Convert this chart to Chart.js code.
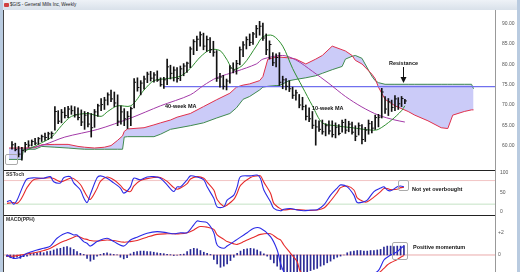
<!DOCTYPE html>
<html>
<head>
<meta charset="utf-8">
<script src="https://cdn.jsdelivr.net/npm/chart.js@4.4.1/dist/chart.umd.min.js"></script>
<style>
body{margin:0;width:520px;height:272px;overflow:hidden;background:#b9cbe0;font-family:"Liberation Sans",Arial,sans-serif;position:relative}
.abs{position:absolute}
#titlebar{left:3px;top:0;width:514px;height:10px;background:linear-gradient(#eef2f7,#d9e1ea)}
#icon{left:4px;top:3px;width:5px;height:4px;background:#d04040;border-radius:1px}
#title{left:10px;top:2px;font-size:4.6px;line-height:6px;color:#222;white-space:nowrap}
#inner{left:3px;top:10px;width:514px;height:262px;background:#fff;border-left:1px solid #444;box-sizing:border-box}
canvas{position:absolute;left:4px}
.sep{left:4px;width:491px;height:1px;background:#222;z-index:2}
#vline{left:495px;top:10px;width:1px;height:262px;background:#999;z-index:2}
.note{font-size:5.5px;line-height:6px;font-weight:bold;color:#111;white-space:nowrap;z-index:3}
.lbl{font-size:5px;line-height:6px;font-weight:bold;color:#333;white-space:nowrap;z-index:3}
.box{border:1px solid #aaa;border-radius:2px;z-index:3;box-sizing:border-box}
</style>
</head>
<body>
<div id="titlebar" class="abs"></div>
<div id="icon" class="abs"></div>
<div id="title" class="abs">$GIS - General Mills Inc, Weekly</div>
<div id="inner" class="abs"></div>
<canvas id="priceChart" width="513" height="159" style="top:11px"></canvas>
<canvas id="stochChart" width="513" height="45" style="top:170px"></canvas>
<canvas id="macdChart" width="513" height="57" style="top:215px"></canvas>
<div class="abs sep" style="top:170px"></div>
<div class="abs sep" style="top:215px"></div>
<div id="vline" class="abs"></div>

<div class="abs note" style="left:165px;top:103px">40-week MA</div>
<div class="abs note" style="left:312px;top:105px">10-week MA</div>
<div class="abs note" style="left:389px;top:60px">Resistance</div>
<svg class="abs" style="left:399px;top:67px;z-index:3" width="9" height="17">
  <line x1="4.5" y1="0" x2="4.5" y2="13" stroke="#111" stroke-width="1"/>
  <path d="M1.5 10 L4.5 16 L7.5 10 Z" fill="#111"/>
</svg>
<div class="abs box" style="left:5px;top:154px;width:13px;height:11px"></div>
<div class="abs lbl" style="left:6px;top:171px">SSToch</div>
<div class="abs box" style="left:398px;top:180px;width:11px;height:11px"></div>
<div class="abs note" style="left:412px;top:186px">Not yet overbought</div>
<div class="abs lbl" style="left:6px;top:216px">MACD(PPH)</div>
<div class="abs box" style="left:392px;top:242px;width:16px;height:18px"></div>
<div class="abs note" style="left:413px;top:244px">Positive momentum</div>

<script>
/* DATA : weekly bars, index = week */
const highs = [61.0,60.6,59.8,59.6,60.8,61.2,61.4,61.8,62.0,62.6,63.1,63.3,63.4,69.6,68.6,68.9,69.4,69.7,69.8,69.6,
  69.3,68.8,68.4,68.2,67.9,68.9,70.2,71.6,71.9,73.0,73.7,73.2,72.5,69.8,69.1,68.4,69.5,76.5,76.7,76.0,
  77.1,78.1,78.3,78.0,78.4,76.7,76.8,81.3,79.8,79.4,79.2,79.6,80.2,80.6,84.3,86.1,87.0,88.0,87.7,87.0,
  86.6,85.7,83.4,77.8,77.3,76.4,79.7,80.4,81.0,84.3,85.6,86.8,87.5,87.9,89.6,90.6,90.2,87.5,85.8,82.9,
  82.6,82.9,77.1,76.5,76.0,74.4,73.7,72.6,71.9,70.0,69.3,68.4,66.3,66.1,66.3,65.4,66.1,66.1,65.6,65.2,
  66.3,66.5,66.0,65.8,64.9,65.6,65.2,64.5,66.3,66.0,67.5,67.7,74.1,72.1,71.6,71.2,72.3,71.8,72.1,71.4];
const lows = [59.1,58.7,57.2,56.4,58.4,59.6,59.9,60.2,60.3,61.0,61.3,61.5,61.8,63.8,65.4,65.6,66.8,66.9,67.7,67.0,
  66.3,64.9,64.0,64.6,62.1,64.5,67.2,68.6,68.9,70.0,70.8,69.6,64.9,65.3,64.9,64.2,64.9,69.3,73.4,72.5,
  73.9,75.5,75.9,75.6,75.8,74.6,74.1,75.0,76.4,75.9,75.6,76.0,77.2,78.0,79.2,82.4,83.4,84.5,83.6,83.2,
  82.9,82.0,75.8,74.4,73.9,73.7,75.4,77.9,77.6,79.9,81.9,83.8,84.6,84.9,86.6,87.2,85.9,82.4,81.3,79.7,
  79.4,74.8,74.0,73.7,73.3,71.6,71.2,69.3,68.8,66.3,65.9,64.2,60.1,63.5,62.8,62.4,62.8,62.1,61.9,62.6,
  63.3,63.0,63.4,62.8,61.2,62.6,60.4,61.0,62.8,63.1,64.0,64.6,66.8,67.9,67.4,68.4,68.6,68.9,69.6,70.3];
const closes = [60.2,59.0,57.9,58.8,60.3,60.1,61.0,60.6,61.7,62.2,62.0,62.9,63.0,68.4,66.0,68.2,67.4,69.0,68.6,67.6,
  66.9,65.8,67.5,65.3,64.4,68.3,69.8,70.1,71.2,72.5,71.5,70.5,66.0,68.3,66.6,67.2,69.1,75.6,74.3,75.4,
  76.4,77.6,76.6,77.4,76.1,75.0,76.2,79.4,77.8,78.6,76.5,78.9,79.6,80.3,83.8,85.6,86.2,87.3,84.5,86.1,
  83.6,83.0,76.6,76.9,74.6,75.9,79.1,78.6,80.2,83.6,84.8,86.1,85.4,87.5,88.8,89.4,86.5,83.6,84.9,80.4,
  81.7,75.6,76.2,74.6,74.0,72.4,73.0,70.0,69.6,67.2,66.6,65.0,64.6,64.0,63.4,64.9,63.6,62.7,64.5,63.0,
  65.7,63.8,65.3,63.3,62.3,64.9,61.5,63.8,65.4,64.3,66.9,67.0,73.2,69.0,70.8,69.4,71.5,70.3,71.6,71.0];

/* moving averages */
const ma10Weeks = [4,8,12,15,18,23,27,29,32,36,40,43,47,51,54,57,60,63,65,67,70,74,76,79,82,85,88,91,94,98,103,109,111,115,118,119];
const ma10 = [58.7,60.3,62.1,64.9,67.2,67.9,67.2,68.4,69.8,69.8,73.7,76.0,76.5,77.1,79.0,81.8,83.6,83.4,81.3,78.8,79.9,84.5,86.8,87.1,84.5,79.0,74.4,69.8,65.6,64.9,64.4,63.8,64.0,66.3,68.6,69.8];
const ma40Weeks = [4,10,16,26,36,45,54,58,62,68,74,76,82,86,91,96,101,106,111,116,119];
const ma40 = [59.1,60.3,62.1,64.0,66.8,69.8,72.5,74.8,76.7,78.3,80.1,81.3,82.2,81.1,78.3,75.3,72.1,69.5,67.5,66.3,65.8];

/* cloud (span A red, span B green), projected ahead */
const cloudWeeks = [-1,3,3.5,7,9,13,17,20,22,25, 28,30,32,33.5,34,35,40,43,45,48,
  50,54,58,62,66,68,70,72,75,76, 77.5,80,81,84,86,89,92,94,97,100,
  101,103,104,106,109,110,111,113,116,120, 122,126,130,132,133.5,137,139.2,139.8];
const spanA = [59.4,59.4,59.4,59.5,60.2,60.3,60.3,59.8,59.6,59.4, 59.6,60.0,61.3,62.4,63.5,64.1,64.4,65.1,65.6,66.3,
  67.0,67.9,69.6,71.3,72.9,74.4,74.9,75.2,76.0,77.0, 81.3,81.8,81.8,81.6,81.3,80.1,81.3,82.2,84.5,83.6,
  83.3,82.2,81.0,80.1,77.6,76.5,74.4,71.4,69.8,68.4, 67.5,66.1,64.4,64.2,67.5,68.4,68.8,68.8];
const spanB = [56.6,56.6,59.1,59.1,59.8,59.6,59.4,59.2,59.1,59.1, 59.1,59.1,59.1,59.1,62.1,62.2,62.2,62.2,62.8,64.0,
  64.3,64.9,65.6,66.8,67.9,69.3,71.4,72.1,73.7,74.4, 74.6,74.8,74.8,76.0,76.3,76.7,77.2,77.8,78.7,79.5,
  81.3,82.0,82.2,81.5,77.1,76.0,75.5,75.1,75.1,75.1, 75.1,75.1,75.1,75.1,75.1,75.1,75.1,74.0];

const resistanceLevel = 74.5;
const resistanceFrom = 46;
const priceTicks = [60,65,70,75,80,85,90];

/* slow stochastic */
const stochWeeks = [0,1,2,3,4,5,6,8,11,13,14,16,17,19,20,22,23,24,25,27,28,30,32,34,35,37,38,40,42,44,46,48,50,51,52,54,55,57,59,60,
  62,63,65,66,68,69,70,73,75,76,77,79,80,82,83,85,87,89,91,93,95,97,99,100,102,104,105,107,108,110,112,113,114,115,117,118,119];
const stochK = [26,29,20,30,50,70,84,87,86,90,77,74,87,90,74,56,36,24,45,87,92,86,74,61,48,64,86,82,89,90,86,69,52,64,64,82,92,89,82,64,
  35,13,13,30,43,64,90,92,94,85,56,26,9,3,7,9,5,3,5,6,18,43,61,69,64,43,24,26,30,52,61,64,56,54,64,66,64];
const stochD = [22,23,24,22,30,45,62,82,86,87,85,77,79,86,85,70,55,40,32,60,78,89,82,68,58,52,66,80,85,88,88,78,62,58,61,72,84,90,86,76,
  56,32,14,18,32,48,68,88,92,92,76,48,22,8,5,7,6,5,4,5,10,28,50,62,66,56,36,26,26,38,52,60,60,57,58,62,63];
const stochLevels = [80, 20];
const stochTicks = [0,50,100];

/* MACD */
const macdWeeks = [0,2,4,6,9,11,13,15,18,20,21,23,24,25,27,30,32,35,37,39,42,45,48,50,52,54,56,57,58,60,
  62,63,65,66,68,69,71,72,74,76,79,81,82,83,85,87,88,93,97,100,106,111,113,114,115,117,118,119];
const macdLine = [0.0,-0.3,-0.2,0.15,0.45,0.6,0.8,1.5,2.0,1.8,1.8,1.2,1.05,0.8,1.2,1.5,1.2,0.8,1.35,1.6,1.95,2.1,2.0,1.9,2.0,2.0,2.7,3.05,3.0,2.9,
  2.0,0.9,0.6,0.8,1.2,1.4,1.8,2.0,2.4,2.4,1.65,0.45,-0.75,-1.5,-2.2,-2.6,-2.7,-2.6,-2.4,-2.2,-1.9,-1.5,-0.45,-0.2,0.0,0.3,0.6,0.8];
const signalLine = [-0.1,-0.1,0.0,0.1,0.25,0.4,0.6,0.95,1.35,1.6,1.7,1.45,1.4,1.3,1.25,1.35,1.3,1.15,1.2,1.3,1.6,1.85,1.9,1.9,1.9,2.0,2.25,2.45,2.55,2.5,
  2.3,1.8,1.4,1.2,1.0,0.95,1.2,1.35,1.6,1.85,1.9,1.5,1.35,0.9,0.15,-0.6,-1.5,-2.6,-2.8,-2.7,-2.3,-1.7,-1.2,-0.9,-0.7,-0.4,-0.2,-0.05];
const histogram = [-0.15,-0.25,-0.3,-0.2,-0.3,-0.15,-0.1, 0.1,0.15,0.2,0.25,0.2,0.3,
  0.35,0.45,0.55,0.6,0.7,0.75,0.65,0.5, 0.3,0.15,0.05, -0.3,-0.55,-0.4, -0.1,0.05,0.15,0.2, 0.1,0.05,0.02,
  -0.2,-0.35,-0.25, 0.1,0.25,0.3,0.35,0.35,0.3,0.3,0.25,0.2,0.15,0.12, 0.05,0.03,-0.05,-0.02,0.05,0.08,
  0.3,0.5,0.6,0.55,0.4, 0.25,0.15,0.05, -0.4,-0.8,-1.1,-1.0,-0.8,-0.5,-0.2, 0.15,0.35,0.5,0.55,0.6,0.55,0.45,
  0.3,0.1,-0.1, -0.4,-0.7,-1.0,-1.3,-1.5,-1.6,-1.6,-1.6,-1.6,-1.6,-1.55,-1.5,-1.4,-1.3,-1.2,-1.0,-0.9,-0.7,-0.55,
  -0.35,-0.2,-0.1,0.0, 0.2,0.3,0.35,0.4,0.4,0.35,0.35,0.4,0.4,0.45,0.5, 0.7,0.8,0.8,0.75,0.8,0.8,0.85];
const macdTicks = [0,2];

/* LAYOUT */
const X_MIN = -0.9, X_MAX = 146.3;
const FONT = {size:5, family:"'Liberation Sans', Arial, sans-serif"};

function pts(xs, ys){ return xs.map((x,i)=>({x, y:ys[i]})); }

function xAxis(){ return {type:'linear', min:X_MIN, max:X_MAX, display:false, offset:false}; }

function yAxis(min, max, ticks, fmt, pad){
  return {
    position:'right', min, max,
    grid:{display:false, drawTicks:false}, border:{display:false},
    afterBuildTicks: s => { s.ticks = ticks.map(v => ({value:v})); },
    afterFit: s => { s.width = 22; s.paddingTop = 0; s.paddingBottom = 0; },
    ticks:{font:FONT, color:'#555', padding:pad, autoSkip:false, callback:fmt}
  };
}

function line(data, color, width, extra){
  return Object.assign({type:'line', data, borderColor:color, borderWidth:width,
    pointRadius:0, tension:0.3, fill:false}, extra||{});
}

const baseOpts = {
  responsive:false, animation:false, devicePixelRatio:1,
  layout:{padding:0},
  plugins:{legend:{display:false}, tooltip:{enabled:false}}
};

/* PRICE */
new Chart(document.getElementById('priceChart'), {
  type:'bar',
  data:{datasets:[
    {type:'bar', data:highs.map((h,i)=>({x:i, y:[lows[i], h]})), backgroundColor:'#111',
      barThickness:1, grouped:false, order:1},
    {type:'line', data:closes.map((c,i)=>({x:i+0.3, y:c})), showLine:false,
      pointStyle:'line', pointRadius:1, pointBorderWidth:1, pointBorderColor:'#111', order:1},
    line(pts(ma10Weeks, ma10), '#2f8f2f', 1, {order:2}),
    line(pts(ma40Weeks, ma40), '#a33aa8', 1, {order:2}),
    line([{x:resistanceFrom, y:resistanceLevel},{x:X_MAX, y:resistanceLevel}], '#7070ee', 1.3, {tension:0, order:3}),
    line(pts(cloudWeeks, spanA), '#e0304c', 1, {tension:0, order:4}),
    line(pts(cloudWeeks, spanB), '#3f8a4f', 1, {tension:0, order:5, fill:'-1', backgroundColor:'rgba(190,190,246,0.8)'})
  ]},
  options:Object.assign({}, baseOpts, {scales:{
    x:xAxis(),
    y:yAxis(55.22, 91.92, priceTicks, v => v.toFixed(2), 7)
  }})
});

/* STOCH */
new Chart(document.getElementById('stochChart'), {
  type:'line',
  data:{datasets:[
    line(pts(stochWeeks, stochK), '#2b2be6', 1.1, {order:1}),
    line(pts(stochWeeks, stochD), '#e62b2b', 1.1, {order:2}),
    line([{x:X_MIN, y:stochLevels[0]},{x:X_MAX, y:stochLevels[0]}], '#f2c4c4', 1, {tension:0, order:3}),
    line([{x:X_MIN, y:stochLevels[1]},{x:X_MAX, y:stochLevels[1]}], '#c4e2c4', 1, {tension:0, order:3})
  ]},
  options:Object.assign({}, baseOpts, {scales:{
    x:xAxis(),
    y:yAxis(-7.63, 106.9, stochTicks, v => String(v), 5)
  }})
});

/* MACD */
new Chart(document.getElementById('macdChart'), {
  type:'bar',
  data:{datasets:[
    line(pts(macdWeeks, macdLine), '#2b2be6', 1.1, {order:1}),
    line(pts(macdWeeks, signalLine), '#e62b2b', 1.1, {order:2}),
    {type:'bar', data:histogram.map((v,i)=>({x:i, y:v})), backgroundColor:'#2a2a96',
      barThickness:1, grouped:false, order:3},
    line([{x:X_MIN, y:0},{x:X_MAX, y:0}], '#eaaaaa', 1, {tension:0, order:4})
  ]},
  options:Object.assign({}, baseOpts, {scales:{
    x:xAxis(),
    y:yAxis(-1.525, 3.587, macdTicks, v => v > 0 ? '+' + v : String(v), 3)
  }})
});
</script>
</body>
</html>
